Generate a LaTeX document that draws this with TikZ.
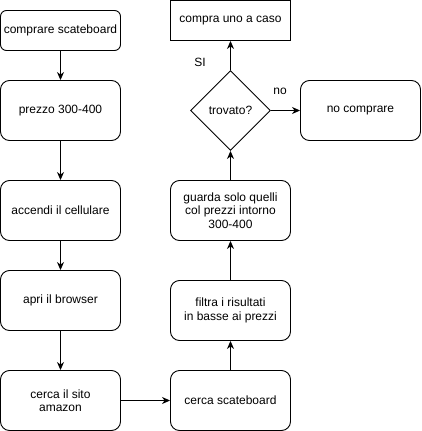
\documentclass[tikz,border=0pt]{standalone}
\usepackage{fontspec}
\setmainfont{Liberation Sans}
\usetikzlibrary{arrows.meta,shapes.geometric}
\begin{document}
\begin{tikzpicture}[x=1pt,y=-1pt,
  every node/.style={font=\fontsize{12}{13.5}\selectfont, inner sep=0pt, align=center},
  rbox/.style={draw, line width=0.9pt, rounded corners=9pt, minimum width=120pt, minimum height=60pt},
  sbox/.style={rbox, rounded corners=6pt, minimum height=40pt},
  plainbox/.style={draw, line width=0.9pt, minimum width=120pt, minimum height=40pt},
  dec/.style={draw, line width=0.9pt, diamond, aspect=1, minimum width=80pt, minimum height=80pt},
  arr/.style={draw, line width=0.9pt, -{Stealth[length=8pt,width=7pt,inset=2.5pt]}}
]
\useasboundingbox (0,0) rectangle (421,431);
\node[sbox] (a) at (60.5,30.5) {comprare scateboard};
\node[rbox] (b) at (60.5,110.5) {prezzo 300-400};
\node[rbox] (c) at (60.5,210.5) {accendi il cellulare};
\node[rbox] (d) at (60.5,300.5) {apri il browser};
\node[rbox] (e) at (60.5,400.5) {cerca il sito\\amazon};
\node[rbox] (f) at (230.5,400.5) {cerca scateboard};
\node[rbox] (g) at (230.5,310.5) {filtra i risultati\\in basse ai prezzi};
\node[rbox] (h) at (230.5,210.5) {guarda solo quelli\\col prezzi intorno\\300-400};
\node[dec] (k) at (230.5,110.5) {trovato?};
\node[plainbox] (m) at (230.5,20.5) {compra uno a caso};
\node[rbox] (n) at (360.5,110.5) {no comprare};
\node (si) at (200,62) {SI};
\node (no) at (280,91) {no};
\draw[arr] (a) -- (b);
\draw[arr] (b) -- (c);
\draw[arr] (c) -- (d);
\draw[arr] (d) -- (e);
\draw[arr] (e) -- (f);
\draw[arr] (f) -- (g);
\draw[arr] (g) -- (h);
\draw[arr] (h) -- (k);
\draw[arr] (k) -- (m);
\draw[arr] (k) -- (n);
\end{tikzpicture}
\end{document}
